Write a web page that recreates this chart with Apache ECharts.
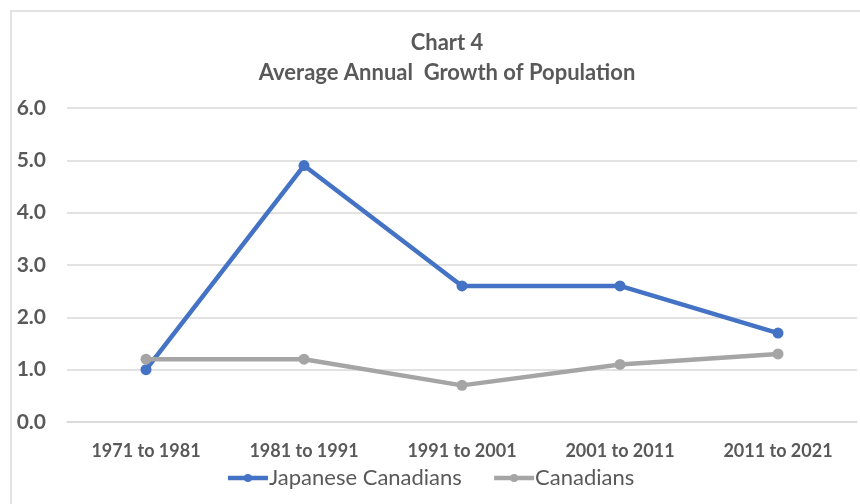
<!DOCTYPE html>
<html>
<head>
<meta charset="utf-8">
<script src="https://cdn.jsdelivr.net/npm/echarts@6/dist/echarts.min.js"></script>
<style>
  * { margin: 0; padding: 0; }
  html, body { width: 860px; height: 504px; background: #fff; }
  #chart { width: 860px; height: 504px; }
</style>
</head>
<body>
<div id="chart"></div>
<script>
// data
var categories = ["1971 to 1981", "1981 to 1991", "1991 to 2001", "2001 to 2011", "2011 to 2021"];
var japaneseCanadians = [1.0, 4.9, 2.6, 2.6, 1.7];
var canadians = [1.2, 1.2, 0.7, 1.1, 1.3];

var textColor = "#595959";
var font = "Lato, 'Open Sans', sans-serif";

var chart = echarts.init(document.getElementById("chart"));
chart.setOption({
  animation: false,
  textStyle: { fontFamily: font },
  graphic: [{
    type: "rect",
    shape: { x: 11, y: 11, width: 900, height: 600 },
    style: { fill: "none", stroke: "#d9d9d9", lineWidth: 1.5 },
    silent: true
  }],
  title: {
    text: "Chart 4\nAverage Annual  Growth of Population",
    left: 442,
    textAlign: "center",
    top: 23,
    textStyle: {
      color: textColor,
      fontSize: 22,
      fontWeight: "bold",
      lineHeight: 30,
      fontFamily: font
    }
  },
  grid: {
    left: 67,
    right: 3,
    top: 108,
    bottom: 82,
    containLabel: false
  },
  legend: {
    bottom: 10,
    left: "center",
    itemWidth: 40,
    itemHeight: 10,
    itemGap: 30,
    lineStyle: { width: 4.5 },
    textStyle: { color: textColor, fontSize: 22, fontFamily: font, padding: [0, 0, 0, -4] },
    data: ["Japanese Canadians", "Canadians"]
  },
  xAxis: {
    type: "category",
    data: categories,
    boundaryGap: true,
    axisLine: { show: true, lineStyle: { color: "#d9d9d9", width: 1.5 } },
    axisTick: { show: false },
    axisLabel: { color: textColor, fontSize: 18, fontWeight: "bold", margin: 20, fontFamily: font }
  },
  yAxis: {
    type: "value",
    min: 0,
    max: 6,
    interval: 1,
    axisLine: { show: false },
    axisTick: { show: false },
    splitLine: { lineStyle: { color: "#d9d9d9", width: 1.5 } },
    axisLabel: {
      color: textColor,
      fontSize: 21,
      fontWeight: "bold",
      margin: 21,
      fontFamily: font,
      formatter: function (v) { return v.toFixed(1); }
    }
  },
  series: [
    {
      name: "Japanese Canadians",
      type: "line",
      data: japaneseCanadians,
      symbol: "circle",
      symbolSize: 11,
      color: "#4472C4",
      lineStyle: { width: 4.5, color: "#4472C4" },
      itemStyle: { color: "#4472C4" }
    },
    {
      name: "Canadians",
      type: "line",
      data: canadians,
      symbol: "circle",
      symbolSize: 11,
      color: "#A5A5A5",
      lineStyle: { width: 4.5, color: "#A5A5A5" },
      itemStyle: { color: "#A5A5A5" }
    }
  ]
});
</script>
</body>
</html>
